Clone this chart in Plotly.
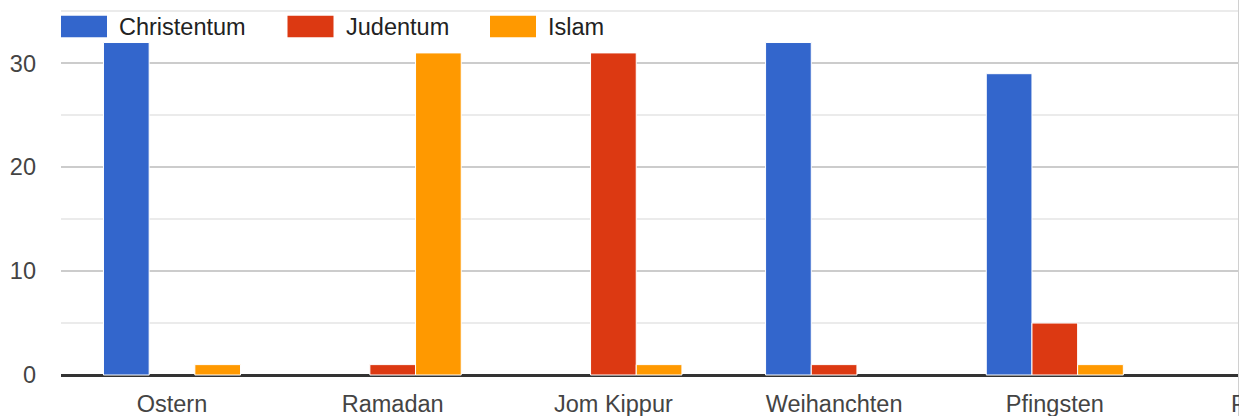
import plotly.graph_objects as go

# Festivals on the x axis (the last one sits at the clipped right edge)
festivals = ["Ostern", "Ramadan", "Jom Kippur", "Weihanchten", "Pfingsten"]
edge_festival = "Pessach"

# Votes per religion
series_names = ["Christentum", "Judentum", "Islam"]
christentum = [32, 0, 0, 32, 29]
judentum = [0, 1, 31, 1, 5]
islam = [1, 31, 1, 0, 1]
series_values = [christentum, judentum, islam]
series_colors = ["#3366cc", "#dc3912", "#ff9900"]

y_tickvals = [0, 10, 20, 30]

FONT = "Arial, Liberation Sans, sans-serif"
FS = 23.5

W, H = 1239, 416
ML, MB = 61, 39
PW, PH = W - ML, H - MB


def px_x(px):
    return (px - ML) / PW


def px_y(py):
    return (PH - py) / PH


fig = go.Figure()
for name, vals, col in zip(series_names, series_values, series_colors):
    # thin white separator between adjacent bars; none on empty bars
    fig.add_trace(go.Bar(
        x=festivals, y=vals, name=name,
        marker=dict(color=col, line=dict(color="white",
                                         width=[1 if v else 0 for v in vals])),
        showlegend=False,
    ))

# Legend drawn as large swatches with labels across the top
legend_swatch_x = [61, 287.5, 490]
shapes = []
annotations = []
for name, col, sx in zip(series_names, series_colors, legend_swatch_x):
    shapes.append(dict(
        type="rect", xref="paper", yref="paper",
        x0=px_x(sx), x1=px_x(sx + 46), y0=px_y(37.3), y1=px_y(15.7),
        fillcolor=col, line=dict(width=0), layer="above",
    ))
    annotations.append(dict(
        text=name, xref="paper", yref="paper",
        x=px_x(sx + 56), y=px_y(27), xanchor="left", yanchor="middle",
        showarrow=False, font=dict(family=FONT, size=FS, color="#222222"),
    ))

# Category label at the clipped right edge
annotations.append(dict(
    text=edge_festival, xref="paper", yref="paper",
    x=px_x(172 + 5 * 220.7), y=0, xanchor="center", yanchor="top",
    yshift=-12, showarrow=False,
    font=dict(family=FONT, size=FS, color="#444444"),
))

# Container border on the right
shapes.append(dict(
    type="line", xref="paper", yref="paper", x0=1, x1=1, y0=-0.2, y1=1.2,
    line=dict(color="#d0d0d0", width=2), layer="above",
))

ppu = (375 - 63.3) / 30.0
y_min = -(PH - 375) / ppu
y_max = 375 / ppu
x_min = -(172 - ML) / 220.7
x_max = (W - 172) / 220.7

fig.update_layout(
    width=W, height=H,
    margin=dict(l=ML, r=0, t=0, b=MB, pad=0),
    paper_bgcolor="white", plot_bgcolor="white",
    barmode="group", bargap=0.379, bargroupgap=0,
    font=dict(family=FONT, size=FS, color="#444444"),
    shapes=shapes, annotations=annotations,
    xaxis=dict(
        type="category", range=[x_min, x_max], showgrid=False,
        showline=False, zeroline=False, ticks="", ticklabelstandoff=10,
        tickfont=dict(family=FONT, size=FS, color="#444444"),
    ),
    yaxis=dict(
        range=[y_min, y_max], tickvals=y_tickvals,
        showgrid=True, gridcolor="#cccccc", gridwidth=2,
        minor=dict(dtick=5, tick0=0, showgrid=True, gridcolor="#ebebeb", gridwidth=2),
        zeroline=True, zerolinecolor="#333333", zerolinewidth=3,
        showline=False, ticks="", ticklabelstandoff=24,
        tickfont=dict(family=FONT, size=FS, color="#444444"),
    ),
)

fig.write_html("out.html")
